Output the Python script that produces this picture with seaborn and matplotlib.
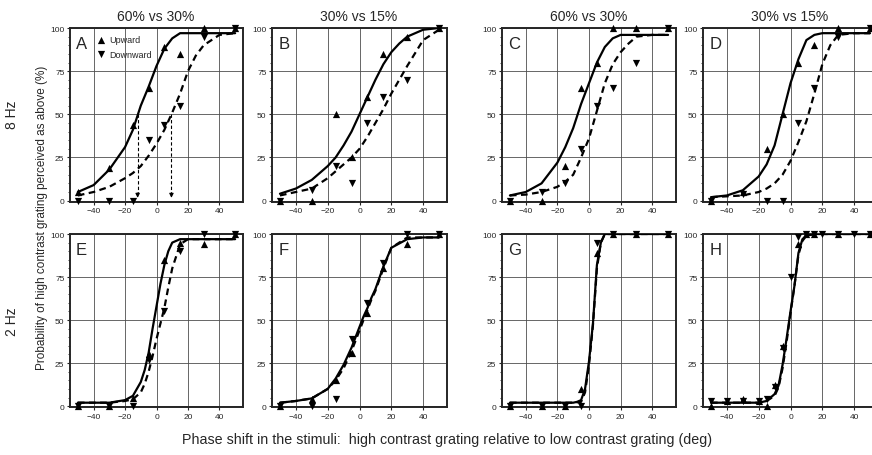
import matplotlib
matplotlib.use("Agg")
import matplotlib.pyplot as plt
import numpy as np
import pandas as pd
import seaborn as sns
from matplotlib.ticker import MultipleLocator

# phase shift of the stimuli (deg)
shift = [-50, -30, -15, -5, 5, 15, 30, 50]
shift_h = [-50, -40, -30, -20, -15, -10, -5, 0, 5, 10, 15, 20, 30, 40, 50]

# measured points: % "high contrast grating perceived as above"
up_a = [5, 19, 44, 65, 89, 85, 100, 100]
down_a = [0, 0, 0, 35, 44, 55, 95, 100]
up_b = [0, 0, 50, 25, 60, 85, 95, 100]
down_b = [0, 6, 20, 10, 45, 60, 70, 100]
up_c = [0, 0, 20, 65, 80, 100, 100, 100]
down_c = [0, 5, 10, 30, 55, 65, 80, 100]
up_d = [0, 5, 30, 50, 80, 90, 100, 100]
down_d = [0, 4, 0, 0, 45, 65, 95, 100]
up_e = [0, 0, 5, 30, 85, 95, 94, 100]
down_e = [0, 0, 0, 27, 55, 90, 100, 100]
up_f = [0, 4, 15, 31, 54, 80, 94, 100]
down_f = [0, 0, 4, 39, 60, 83, 100, 100]
up_g = [0, 0, 0, 10, 89, 100, 100, 100]
down_g = [0, 0, 0, 0, 95, 100, 100, 100]
up_h = [0, 3, 4, 3, 0, 12, 35, np.nan, 94, 100, 100, np.nan, 100, np.nan, 100]
down_h = [3, 3, 3, 3, 4, 11, 34, 75, 98, 100, 100, 100, 100, 100, 100]

# fitted psychometric curves
fit_x_top = [-50, -40, -30, -20, -15, -10, -5, 0, 5, 10, 15, 20, 25, 30, 40, 50]
solid_a = [5, 9, 18, 31, 41, 55, 66, 78, 88, 94, 97, 97, 97, 97, 97, 97]
dashed_a = [3, 5, 8, 13, 16, 20, 26, 33, 41, 51, 62, 75, 84, 90, 96, 97]
solid_b = [4, 7, 12, 20, 25, 32, 40, 50, 60, 70, 79, 86, 91, 95, 99, 100]
dashed_b = [3, 5, 7, 13, 17, 21, 25, 30, 37, 45, 53, 62, 70, 78, 93, 99]
solid_c = [3, 5, 10, 22, 31, 42, 56, 68, 80, 89, 94, 96, 96, 96, 96, 96]
dashed_c = [3, 3.5, 5, 8, 11, 15, 25, 36, 52, 68, 79, 86, 91, 95, 96, 96]
solid_d = [2, 3, 6, 14, 21, 32, 50, 68, 82, 93, 96, 97, 97, 97, 97, 97]
dashed_d = [2, 2.5, 3, 5, 7, 10, 15, 23, 34, 46, 62, 79, 90, 96, 97, 97]

fit_x_bot = [-50, -40, -30, -20, -15, -10, -7.5, -5, -2.5, 0, 2.5, 5, 7.5, 10, 15, 20, 30, 40, 50]
solid_e = [2, 2, 2, 3.5, 6, 14, 21, 31, 45, 58, 71, 82, 90, 95, 97, 97, 97, 97, 97]
dashed_e = [2, 2, 2, 3, 4, 8, 13, 20, 29, 39, 48, 57, 69, 80, 94, 97, 97, 97, 97]
solid_f = [2, 3, 4.5, 10, 16, 24, 29, 34, 40, 46, 52, 57, 63, 68, 81, 92, 97, 98, 98]
dashed_f = [2, 3, 4.5, 10, 15, 22, 27, 32, 38, 44, 50, 56, 62, 67, 80, 92, 98, 98, 98]
solid_g = [2, 2, 2, 2, 2, 2, 2.5, 3.5, 10, 26, 48, 82, 95, 100, 100, 100, 100, 100, 100]
dashed_g = [2, 2, 2, 2, 2, 2, 2.2, 2.5, 8, 24, 47, 80, 95, 100, 100, 100, 100, 100, 100]
solid_h = [2, 2, 2, 2, 3, 7, 12, 24, 39, 55, 70, 89, 97, 99, 100, 100, 100, 100, 100]
dashed_h = [2, 2, 2, 2, 3, 6, 11, 22, 37, 54, 70, 88, 96, 99, 100, 100, 100, 100, 100]

# 50% thresholds marked in panel A
thresholds_a = [-12, 9.5]

panels = [
    ("A", shift, up_a, down_a, fit_x_top, solid_a, dashed_a),
    ("B", shift, up_b, down_b, fit_x_top, solid_b, dashed_b),
    ("C", shift, up_c, down_c, fit_x_top, solid_c, dashed_c),
    ("D", shift, up_d, down_d, fit_x_top, solid_d, dashed_d),
    ("E", shift, up_e, down_e, fit_x_bot, solid_e, dashed_e),
    ("F", shift, up_f, down_f, fit_x_bot, solid_f, dashed_f),
    ("G", shift, up_g, down_g, fit_x_bot, solid_g, dashed_g),
    ("H", shift_h, up_h, down_h, fit_x_bot, solid_h, dashed_h),
]

sns.set_style("ticks")
plt.rcParams["font.family"] = ["Liberation Sans", "DejaVu Sans"]

W, H = 872, 456
fig = plt.figure(figsize=(W / 100, H / 100), dpi=100)

col_px = [(70, 243), (272, 447), (502, 676), (703, 878)]
row_px = [(29, 202.5), (235, 408)]


def px_rect(x0, x1, y0, y1):
    return [x0 / W, 1 - y1 / H, (x1 - x0) / W, (y1 - y0) / H]


for i, (letter, px, up, down, fx, solid, dashed) in enumerate(panels):
    r, c = divmod(i, 4)
    ax = fig.add_axes(px_rect(*col_px[c], *row_px[r]))

    ax.set_xlim(-55, 55)
    ax.set_ylim(-0.5, 100)
    ax.set_xticks([-40, -20, 0, 20, 40])
    ax.set_yticks([0, 25, 50, 75, 100])
    ax.yaxis.set_minor_locator(MultipleLocator(5))
    ax.grid(True, which="major", color="0.3", lw=0.6)
    ax.tick_params(labelsize=6, length=2.5, width=0.8, pad=1.5)
    ax.tick_params(which="minor", length=1.5, width=0.6)
    for s in ax.spines.values():
        s.set_linewidth(1.4)

    sns.lineplot(x=fx, y=solid, ax=ax, color="k", lw=1.6, zorder=3)
    sns.lineplot(x=fx, y=dashed, ax=ax, color="k", lw=1.6,
                 linestyle=(0, (3, 2)), zorder=3)

    sns.scatterplot(x=px, y=up, ax=ax, marker="^", color="k", s=27,
                    linewidth=0, clip_on=False, zorder=4,
                    label="Upward" if letter == "A" else None)
    sns.scatterplot(x=px, y=down, ax=ax, marker="v", color="k", s=27,
                    linewidth=0, clip_on=False, zorder=4,
                    label="Downward" if letter == "A" else None)

    ax.text(0.035, 0.955, letter, transform=ax.transAxes, fontsize=12,
            va="top", ha="left")

    if letter == "A":
        for t in thresholds_a:
            ax.plot([t, t], [50, 4], color="k", lw=0.8, ls=(0, (3, 2)), zorder=2)
            ax.annotate("", xy=(t, 0), xytext=(t, 6),
                        arrowprops=dict(arrowstyle="-|>", color="k", lw=0.8,
                                        mutation_scale=6))
        ax.legend(loc="upper left", bbox_to_anchor=(0.12, 0.99), frameon=False,
                  fontsize=6.5, handlelength=1, handletextpad=0.4,
                  labelspacing=0.6, borderaxespad=0.2, markerscale=1)
    else:
        leg = ax.get_legend()
        if leg is not None:
            leg.remove()
    ax.set_xlabel("")
    ax.set_ylabel("")

# column titles
for label, cx in [("60% vs 30%", 156), ("30% vs 15%", 359),
                  ("60% vs 30%", 589), ("30% vs 15%", 790)]:
    fig.text(cx / W, 1 - 17 / H, label, ha="center", va="center", fontsize=10)

fig.text(12 / W, 1 - 115 / H, "8 Hz", rotation=90, ha="center", va="center", fontsize=10)
fig.text(12 / W, 1 - 322 / H, "2 Hz", rotation=90, ha="center", va="center", fontsize=10)
fig.text(42 / W, 1 - 218 / H,
         "Probability of high contrast grating perceived as above (%)",
         rotation=90, ha="center", va="center", fontsize=8.5)
fig.text(447 / W, 1 - 440 / H,
         "Phase shift in the stimuli:  high contrast grating relative to low contrast grating (deg)",
         ha="center", va="center", fontsize=10.3)

fig.savefig("out.png", dpi=100)
